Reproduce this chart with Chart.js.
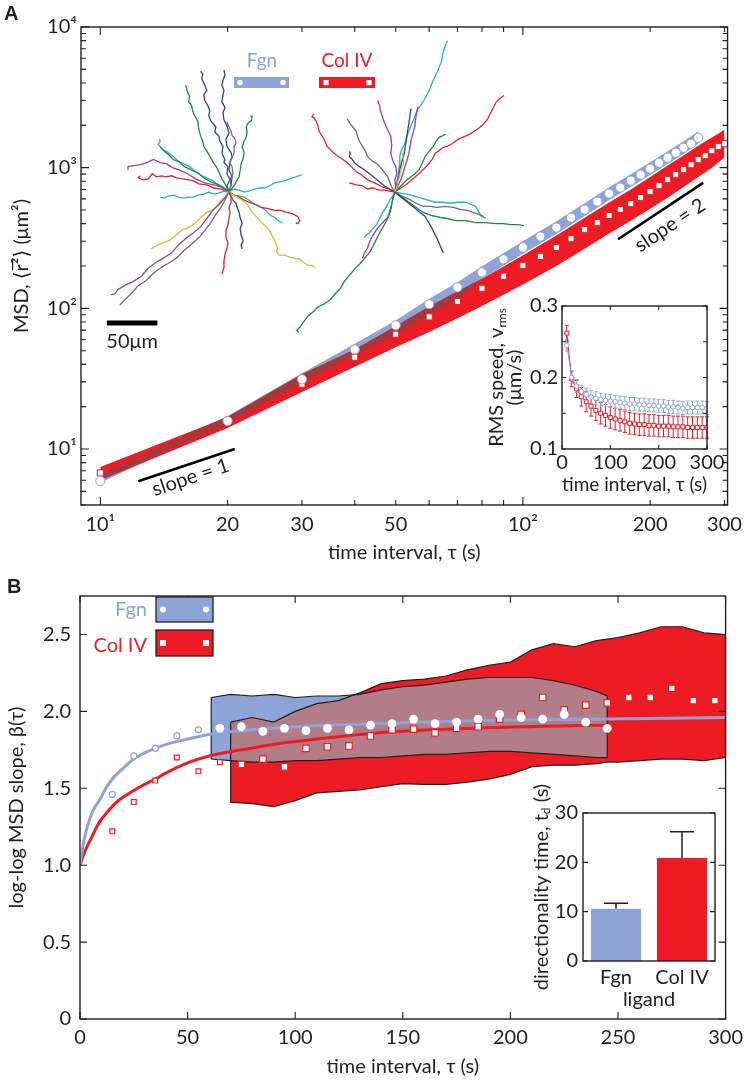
<!DOCTYPE html>
<html>
<head>
<meta charset="utf-8">
<title>MSD and log-log MSD slope</title>
<script src="https://cdn.jsdelivr.net/npm/chart.js@4.4.1/dist/chart.umd.min.js"></script>
<style>
  body { margin: 0; background: #fff; }
  #page { position: relative; width: 750px; height: 1080px; overflow: hidden; background: #fff; }
  #page canvas { position: absolute; }
</style>
</head>
<body>
<div id="page">
  <canvas id="msdChart" width="750" height="575" style="left:0;top:0"></canvas>
  <canvas id="slopeChart" width="750" height="505" style="left:0;top:575px"></canvas>
  <canvas id="speedChart" width="262" height="210" style="left:480px;top:290px"></canvas>
  <canvas id="tdChart" width="215" height="245" style="left:525px;top:770px"></canvas>
</div>
<script>
// ---------- panel A : MSD ----------
const msdTauFgn = [10,20,30,40,50,60,70,80,90,100,110,120,130,140,150,160,170,180,190,200,210,220,230,240,250,260];
const msdFgn = [5.93,15.8,31.3,51,75.7,107,141,180,223,271,324,375,441,503,574,654,722,809,892,984,1085,1177,1277,1386,1479,1633];
const msdTauCol = [10,20,30,40,50,60,70,80,90,100,110,120,130,140,150,160,170,180,190,200,210,220,230,240,250,260,270,280,290,300];
const msdCol = [6.76,16.0,28.9,44.9,65.5,87,112,139,169,202,234,271,313,363,407,457,504,556,613,676,745,822,892,968,1050,1140,1217,1321,1410,1479];

// band edges (upper / lower)
const bandTauFgn = [10,20,30,40,50,60,70,80,90,100,120,140,160,180,200,220,240,260];
const bandFgnLo = [5.75,15.3,29.4,47,64.4,90,114,162,201,244,338,453,589,729,887,1062,1251,1473];
const bandFgnHi = [6.7,17.2,34.5,56,82,117,153,199,247,300,416,558,726,898,1092,1308,1540,1813];
const bandTauCol = [10,20,30,40,50,60,70,80,90,100,120,140,160,180,200,220,240,260,280,300];
const bandColLo = [6.0,14.1,25.4,38.5,52.8,68,85,104,125,148,200,265,340,420,510,610,730,860,1000,1180];
const bandColHi = [7.45,16.9,34,51,74.5,103,132,162,198,238,330,440,565,700,860,1035,1220,1430,1640,1860];

const slopeOneTau = [12.3, 20.8], slopeOneMsd = [5.9, 10];
const slopeTwoTau = [168, 267], slopeTwoMsd = [310, 780];

const msdTickVals = [10,20,30,50,100,200,300];
const msdTickText = ['10\u00B9','20','30','50','10\u00B2','200','300'];
const msdYTickVals = [10,100,1000,10000];
const msdYTickText = ['10\u00B9','10\u00B2','10\u00B3','10\u2074'];

// example trajectories, offsets in um from each starting point
const fgnStart = [146.5, 307.7], colStart = [310.6, 307.7];
const scaleBarUm = [25.6, 75.6], scaleBarY = 179;
const fgnTracks = [
  ['blue',   [[0,0],[-2,6],[1,12],[-2,18],[-1,25],[-5,29],[-4,32],[-7,38],[-6,45],[-9,50],[-10,55],[-14,59],[-13,64],[-18,70],[-20,75],[-19,80],[-21,85],[-24,90],[-25,95],[-22,100],[-24,105],[-27,112],[-26,116],[-28,119]]],
  ['blue',   [[0,0],[2,7],[3,15],[0,22],[1,30],[3,35],[2,39],[-2,45],[-3,52],[0,58],[-2,65],[-5,71],[-6,78],[-4,83],[-7,89],[-6,95],[-5,100],[-7,105],[-6,110],[-4,115],[-5,120]]],
  ['gray',   [[0,0],[2,6],[1,12],[4,18],[3,25],[1,28],[2,32],[5,38],[5,45],[7,48],[6,52],[3,56],[2,60],[0,64],[-2,69]]],
  ['green',  [[0,0],[-4,8],[-7,13],[-10,20],[-12,24],[-16,30],[-20,37],[-25,45],[-26,50],[-28,55],[-30,62],[-31,70],[-34,75],[-36,80],[-37,85],[-40,89],[-39,94],[-41,98],[-42,102],[-43,105]]],
  ['green',  [[0,0],[5,6],[7,10],[10,15],[11,21],[12,28],[14,33],[15,39],[13,44],[15,50],[17,54],[18,59],[17,64],[19,68],[22,70],[23,74],[21,75]]],
  ['cyan',   [[0,0],[-5,4],[-10,6],[-16,11],[-22,14],[-27,16],[-33,20],[-39,25],[-45,28],[-50,30],[-55,35],[-58,37],[-62,40],[-66,42],[-70,47],[-68,50],[-69,52]]],
  ['green',  [[0,0],[-6,5],[-12,8],[-18,10],[-25,14],[-31,19],[-38,22],[-44,25],[-50,30],[-55,32],[-60,37],[-64,40],[-68,44]]],
  ['purple', [[0,0],[-8,5],[-15,7],[-24,9],[-33,13],[-41,18],[-50,22],[-56,24],[-62,28],[-68,29],[-75,32],[-81,29],[-88,27],[-94,26],[-100,25],[-100,22]]],
  ['red',    [[0,0],[-8,3],[-15,4],[-22,7],[-30,8],[-35,11],[-40,12],[-46,13],[-52,14],[-57,16],[-62,15],[-67,16],[-72,15],[-76,18],[-80,13],[-85,12],[-90,14],[-88,16]]],
  ['cyan',   [[0,0],[-5,1],[-10,-1],[-15,-2],[-20,0],[-25,-2],[-30,-3],[-35,-5],[-40,-5],[-45,-6],[-50,-5],[-55,-3],[-60,-4],[-64,-6],[-68,-5]]],
  ['cyan',   [[0,0],[5,3],[10,2],[15,0],[20,1],[25,3],[30,4],[35,4],[40,6],[45,9],[50,10],[55,11],[60,13],[66,15],[72,17]]],
  ['cyan',   [[0,0],[5,-3],[10,-4],[15,-5],[20,-8],[25,-12],[30,-14],[35,-17],[40,-22],[45,-25],[50,-29],[53,-30]]],
  ['red',    [[0,0],[5,-3],[10,-5],[15,-8],[20,-10],[26,-12],[32,-15],[38,-16],[45,-18],[51,-18],[57,-20],[62,-21],[68,-24],[70,-28],[68,-31],[66,-30]]],
  ['yellow', [[0,0],[4,-3],[8,-5],[13,-8],[18,-12],[21,-17],[25,-22],[29,-26],[32,-30],[36,-33],[40,-38],[44,-45],[48,-55],[47,-59],[50,-62],[55,-62],[60,-64],[65,-65],[70,-66],[74,-69],[78,-72],[82,-72],[85,-74]]],
  ['blue',   [[0,0],[2,-4],[4,-8],[7,-11],[8,-15],[10,-20],[11,-25],[12,-28],[13,-31],[11,-36],[12,-42],[14,-48],[12,-52],[13,-56]]],
  ['red',    [[0,0],[2,-5],[2,-10],[0,-15],[1,-20],[0,-26],[-1,-32],[-3,-38],[-3,-45],[-1,-50],[-2,-55],[-4,-61],[-5,-68],[-5,-74],[-7,-81]]],
  ['yellow', [[0,0],[-4,-5],[-8,-8],[-12,-14],[-17,-18],[-22,-20],[-28,-25],[-34,-31],[-40,-35],[-46,-37],[-52,-42],[-58,-47],[-65,-50],[-71,-52],[-77,-56]]],
  ['purple', [[0,0],[-5,-7],[-10,-12],[-16,-18],[-22,-26],[-28,-34],[-35,-40],[-42,-45],[-50,-52],[-57,-60],[-65,-65],[-72,-69],[-80,-75],[-87,-83],[-95,-88],[-102,-91],[-110,-96],[-113,-100],[-117,-101]]],
  ['gray',   [[0,0],[-4,-8],[-8,-15],[-13,-22],[-18,-30],[-24,-38],[-30,-45],[-37,-51],[-45,-58],[-52,-65],[-60,-70],[-67,-74],[-75,-80],[-82,-87],[-90,-92],[-95,-98],[-100,-103],[-104,-107],[-108,-111]]]
];
const colTracks = [
  ['red',    [[0,0],[-6,3],[-12,5],[-20,9],[-27,12],[-33,17],[-38,20],[-43,25],[-47,29],[-53,33],[-60,38],[-64,42],[-67,45],[-70,52],[-75,60],[-76,65],[-78,70],[-80,73],[-82,74],[-80,77]]],
  ['gray',   [[0,0],[-3,5],[-5,10],[-7,15],[-10,19],[-14,24],[-18,28],[-23,31],[-27,35],[-29,40],[-32,45],[-35,50],[-37,55],[-38,59],[-40,62],[-44,67],[-47,72]]],
  ['blue',   [[0,0],[-5,3],[-10,6],[-15,10],[-20,14],[-25,18],[-30,22],[-35,25],[-40,29],[-42,32],[-45,35],[-44,38],[-45,40]]],
  ['red',    [[0,0],[-5,1],[-10,2],[-16,2],[-22,4],[-27,3],[-32,6],[-38,7],[-45,9]]],
  ['purple', [[0,0],[1,6],[0,12],[2,18],[1,25],[-2,31],[-4,38],[-3,46],[-4,55],[-7,61],[-10,68],[-12,73],[-14,79],[-15,85],[-17,90]]],
  ['cyan',   [[0,0],[2,8],[3,15],[4,22],[5,30],[5,36],[7,42],[10,48],[12,55],[14,60],[16,65],[19,72],[22,80],[26,86],[30,92],[34,100],[38,110],[42,118],[46,128],[48,138],[52,149]]],
  ['blue',   [[0,0],[2,8],[4,15],[5,22],[7,30],[9,36],[10,42],[11,48],[12,55],[13,62],[14,68],[15,75],[16,82]]],
  ['purple', [[0,0],[3,6],[6,12],[8,18],[10,25],[12,31],[14,38],[15,44],[16,50],[18,58],[20,65],[21,75],[23,84]]],
  ['green',  [[0,0],[4,4],[8,8],[12,12],[16,15],[20,18],[24,22],[27,28],[30,35],[34,40],[38,45],[41,50],[44,54],[47,55],[50,57]]],
  ['red',    [[0,0],[6,4],[12,8],[18,13],[24,18],[28,22],[33,27],[37,32],[40,38],[44,41],[48,44],[52,45],[56,47],[63,52],[70,55],[76,58],[82,62],[87,66],[92,72],[96,80],[100,88],[104,92],[108,95]]],
  ['yellow', [[0,0],[2,5],[3,10],[5,16],[6,22],[8,26],[9,30],[8,35],[7,39]]],
  ['cyan',   [[0,0],[6,-1],[12,-2],[19,-4],[26,-6],[33,-8],[40,-10],[47,-10],[55,-11],[62,-10],[70,-10],[75,-12],[80,-14],[83,-19],[86,-25]]],
  ['gray',   [[0,0],[7,-4],[14,-7],[21,-11],[28,-14],[35,-14],[42,-15],[50,-14],[58,-15],[65,-17],[72,-18],[80,-21],[86,-23],[90,-26]]],
  ['green',  [[0,0],[7,-5],[14,-10],[21,-15],[28,-20],[36,-23],[45,-25],[52,-26],[60,-28],[70,-28],[80,-30],[90,-30],[100,-31],[108,-31],[115,-32],[122,-32],[128,-33]]],
  ['blue',   [[0,0],[5,-4],[10,-8],[15,-12],[20,-16],[25,-20],[30,-24],[33,-29],[36,-34],[39,-40],[42,-46],[45,-53],[48,-60]]],
  ['cyan',   [[0,0],[-2,-4],[-5,-8],[-8,-14],[-12,-20],[-15,-26],[-18,-32],[-22,-36],[-25,-40],[-28,-42],[-30,-45]]],
  ['purple', [[0,0],[-2,-6],[-3,-12],[-4,-18],[-6,-24],[-10,-28],[-14,-32],[-18,-37],[-22,-43],[-25,-49],[-27,-55],[-30,-60],[-32,-65]]],
  ['green',  [[0,0],[-2,-8],[-4,-15],[-6,-22],[-8,-28],[-12,-35],[-16,-42],[-20,-50],[-24,-58],[-29,-64],[-34,-70],[-40,-76],[-45,-82],[-50,-88],[-54,-95],[-59,-100],[-64,-106],[-70,-110],[-76,-113],[-81,-118],[-86,-122],[-89,-126],[-92,-130],[-94,-133],[-97,-136],[-95,-138]]]
];

// ---------- inset A : RMS speed ----------
const speedTau = [10,20,30,40,50,60,70,80,90,100,110,120,130,140,150,160,170,180,190,200,210,220,230,240,250,260,270,280,290,300];
const speedFgn = [0.245,0.200,0.188,0.180,0.176,0.173,0.171,0.169,0.168,0.167,0.166,0.165,0.164,0.163,0.163,0.162,0.162,0.161,0.161,0.160,0.160,0.159,0.159,0.158,0.157,0.158,0.158,0.158,0.158,0.157];
const speedFgnErr = [0.008,0.008,0.009,0.009,0.009,0.009,0.009,0.009,0.009,0.009,0.009,0.009,0.009,0.009,0.009,0.009,0.009,0.009,0.009,0.009,0.009,0.009,0.009,0.009,0.009,0.009,0.009,0.009,0.009,0.009];
const speedCol = [0.262,0.198,0.184,0.173,0.166,0.160,0.154,0.150,0.147,0.144,0.142,0.140,0.138,0.136,0.135,0.134,0.134,0.133,0.133,0.132,0.132,0.132,0.131,0.131,0.131,0.130,0.130,0.130,0.130,0.130];
const speedColErr = [0.011,0.011,0.012,0.013,0.014,0.014,0.014,0.015,0.015,0.015,0.015,0.015,0.015,0.015,0.015,0.015,0.015,0.015,0.015,0.015,0.015,0.015,0.015,0.015,0.015,0.015,0.015,0.015,0.015,0.015];

// ---------- panel B : log-log slope ----------
const fitTauFgn = [0,1,2,3,5,7,9,12,15,20,25,30,35,40,50,60,80,100,135,185,245,300];
const fitFgn = [1.00,1.09,1.17,1.23,1.32,1.38,1.42,1.50,1.56,1.63,1.69,1.73,1.76,1.785,1.82,1.85,1.88,1.90,1.92,1.94,1.95,1.96];
const fitTauCol = [0,2,5,9,13,17,22,28,35,40,50,60,75,92,110,138,184,245,300];
const fitCol = [1.00,1.08,1.17,1.28,1.35,1.41,1.46,1.51,1.56,1.60,1.665,1.71,1.75,1.79,1.82,1.86,1.89,1.91,1.92];

const betaTauFgnEarly = [15,25,35,45,55];
const betaFgnEarly = [1.46,1.71,1.76,1.84,1.88];
const betaTauFgn = [65,75,85,95,105,115,125,135,145,155,165,175,185,195,205,215,225,235,245];
const betaFgn = [1.89,1.90,1.87,1.89,1.875,1.89,1.88,1.91,1.92,1.95,1.92,1.93,1.95,1.98,1.96,1.95,1.98,1.93,1.89];
const betaTauColEarly = [15,25,35,45,55,65];
const betaColEarly = [1.22,1.41,1.55,1.70,1.61,1.67];
const betaTauCol = [75,85,95,105,115,125,135,145,155,165,175,185,195,205,215,225,235,245,255,265,275,285,295];
const betaCol = [1.655,1.69,1.64,1.76,1.77,1.775,1.84,1.88,1.885,1.86,1.89,1.90,1.95,1.98,2.09,2.01,2.04,2.055,2.09,2.09,2.15,2.07,2.07];

// spread regions
const regionGrid = [70,80,90,100,110,120,130,140,150,160,170,180,190,200,210,220,230,240,245];
const fgnRegionTau = [61].concat(regionGrid);
const fgnRegionHi = [2.09,2.11,2.10,2.11,2.09,2.10,2.10,2.11,2.14,2.16,2.17,2.19,2.21,2.22,2.22,2.22,2.20,2.17,2.13,2.10];
const fgnRegionLo = [1.69,1.68,1.67,1.67,1.68,1.68,1.69,1.70,1.70,1.71,1.72,1.72,1.73,1.74,1.74,1.73,1.72,1.71,1.70,1.70];
const colRegionTau = regionGrid.concat([250,260,270,280,290,300]);
const colRegionHi = [1.93,1.96,1.93,2.00,2.05,2.07,2.12,2.18,2.20,2.21,2.23,2.27,2.30,2.32,2.40,2.44,2.42,2.46,2.47,2.48,2.51,2.55,2.55,2.51,2.50];
const colRegionLo = [1.41,1.40,1.38,1.42,1.47,1.48,1.49,1.51,1.53,1.525,1.525,1.54,1.56,1.59,1.64,1.65,1.65,1.66,1.67,1.67,1.68,1.69,1.69,1.68,1.70];

const betaTickVals = [0,0.5,1,1.5,2,2.5];
const tauTickVals = [0,50,100,150,200,250,300];

// ---------- inset B : directionality time ----------
const ligands = ['Fgn', 'Col IV'];
const tdMean = [10.6, 20.9];
const tdErr = [1.1, 5.3];

// ---------- styling ----------
const FONT = 'Lato, "Open Sans", "DejaVu Sans", sans-serif';
const INK = '#231f20';
const FGN = '#8ea4d6';
const COL = '#ed1c24';
const OVERLAP_A = '#a3393d';
const MAUVE = '#b27d88';
const TRACK = {blue:'#2e3f9e', green:'#1b8a3e', cyan:'#27b3b8', purple:'#9a3ca8', red:'#e3232b', gray:'#6d6e71', yellow:'#c5c43b'};

Chart.defaults.font.family = FONT;
Chart.defaults.font.size = 20;
Chart.defaults.color = INK;
Chart.defaults.animation = false;

const xy = (xs, ys) => xs.map((x, i) => ({x, y: ys[i]}));
const ticksAt = vals => axis => { axis.ticks = vals.map(v => ({value: v})); };

function text(ctx, str, x, y, o) {
  o = o || {};
  ctx.save();
  ctx.font = (o.weight || '') + ' ' + (o.size || 20) + 'px ' + (o.family || FONT);
  ctx.fillStyle = o.color || INK;
  ctx.textAlign = o.align || 'center';
  ctx.textBaseline = o.base || 'middle';
  ctx.translate(x, y);
  if (o.rot) ctx.rotate(o.rot);
  ctx.fillText(str, 0, 0);
  ctx.restore();
}

// vertical title with a subscript part: parts = [[text, size, shift]]
function vTitle(ctx, parts, x, y) {
  ctx.save();
  ctx.translate(x, y);
  ctx.rotate(-Math.PI / 2);
  ctx.fillStyle = INK;
  ctx.textBaseline = 'middle';
  ctx.textAlign = 'left';
  let w = 0;
  parts.forEach(p => { ctx.font = p[1] + 'px ' + FONT; w += ctx.measureText(p[0]).width; });
  let cx = -w / 2;
  parts.forEach(p => {
    ctx.font = p[1] + 'px ' + FONT;
    ctx.fillText(p[0], cx, p[2] || 0);
    cx += ctx.measureText(p[0]).width;
  });
  ctx.restore();
}

// box round the plot area and inward tick marks on all four sides
function frame(chart, specs) {
  const {ctx, chartArea: a} = chart;
  ctx.save();
  ctx.strokeStyle = INK;
  ctx.lineWidth = 1.4;
  ctx.strokeRect(a.left, a.top, a.right - a.left, a.bottom - a.top);
  ctx.lineWidth = 1.1;
  specs.forEach(([id, vals, len]) => {
    const sc = chart.scales[id];
    vals.forEach(v => {
      const p = sc.getPixelForValue(v);
      ctx.beginPath();
      if (sc.isHorizontal()) {
        ctx.moveTo(p, a.bottom); ctx.lineTo(p, a.bottom - len);
        ctx.moveTo(p, a.top); ctx.lineTo(p, a.top + len);
      } else {
        ctx.moveTo(a.left, p); ctx.lineTo(a.left + len, p);
        ctx.moveTo(a.right, p); ctx.lineTo(a.right - len, p);
      }
      ctx.stroke();
    });
  });
  ctx.restore();
}

function logMinor(lo, hi) {
  const out = [];
  for (let d = 1; d <= 10000; d *= 10)
    for (let k = 2; k < 10; k++) if (k * d >= lo && k * d <= hi) out.push(k * d);
  return out;
}

function slopeLabel(chart, xs, ys, str, off) {
  const sx = chart.scales.x, sy = chart.scales.y;
  const x1 = sx.getPixelForValue(xs[0]), y1 = sy.getPixelForValue(ys[0]);
  const x2 = sx.getPixelForValue(xs[1]), y2 = sy.getPixelForValue(ys[1]);
  const ang = Math.atan2(y2 - y1, x2 - x1);
  const mx = (x1 + x2) / 2 - Math.sin(ang) * off;
  const my = (y1 + y2) / 2 + Math.cos(ang) * off;
  text(chart.ctx, str, mx, my, {rot: ang});
}

function hiddenScales() {
  return {
    tx: {type: 'linear', axis: 'x', position: 'bottom', display: false, min: 0, max: 640},
    ty: {type: 'linear', axis: 'y', position: 'left', display: false, min: 0, max: 470}
  };
}

// ---------- panel A chart ----------
const aSets = [];
function addA(ds) { ds.order = 1000 - aSets.length; aSets.push(ds); }
function lineA(data, extra) {
  return Object.assign({data, showLine: true, pointRadius: 0, borderWidth: 0, borderColor: 'transparent', fill: false, tension: 0}, extra);
}

const bandOvLo = bandTauFgn.map((t, i) => Math.max(bandFgnLo[i], bandColLo[i]));
const bandOvHi = bandTauFgn.map((t, i) => Math.max(bandOvLo[i], Math.min(bandFgnHi[i], bandColHi[i])));

addA(lineA(xy(bandTauFgn, bandFgnLo)));
addA(lineA(xy(bandTauFgn, bandFgnHi), {fill: '-1', backgroundColor: FGN}));
addA(lineA(xy(bandTauCol, bandColLo)));
addA(lineA(xy(bandTauCol, bandColHi), {fill: '-1', backgroundColor: COL}));
addA(lineA(xy(bandTauFgn, bandOvLo)));
addA(lineA(xy(bandTauFgn, bandOvHi), {fill: '-1', backgroundColor: OVERLAP_A}));

function addTracks(list, start) {
  list.forEach(([c, pts]) => {
    addA(lineA(pts.map(p => ({x: start[0] + p[0], y: start[1] + p[1]})),
      {xAxisID: 'tx', yAxisID: 'ty', borderColor: TRACK[c], borderWidth: 1.3}));
  });
}
addTracks(fgnTracks, fgnStart);
addTracks(colTracks, colStart);
addA(lineA([{x: scaleBarUm[0], y: scaleBarY}, {x: scaleBarUm[1], y: scaleBarY}],
  {xAxisID: 'tx', yAxisID: 'ty', borderColor: '#000', borderWidth: 5, borderCapStyle: 'butt'}));

addA(lineA(xy(slopeOneTau, slopeOneMsd), {borderColor: '#000', borderWidth: 2.6}));
addA(lineA(xy(slopeTwoTau, slopeTwoMsd), {borderColor: '#000', borderWidth: 2.6}));

addA({data: xy(msdTauCol, msdCol), showLine: false, fill: false, pointStyle: 'rect', pointRadius: 4.3,
  pointBackgroundColor: '#fff', pointBorderColor: COL, pointBorderWidth: 1});
addA({data: xy(msdTauFgn, msdFgn), showLine: false, fill: false, pointStyle: 'circle', pointRadius: 4.6,
  pointBackgroundColor: '#fff', pointBorderColor: FGN, pointBorderWidth: 1});

const decorA = {
  id: 'decorA',
  afterDraw(chart) {
    frame(chart, [
      ['x', [10, 100], 8], ['x', logMinor(10, 300).filter(v => v % 100 !== 0 || v > 100), 5],
      ['y', [10, 100, 1000, 10000], 8], ['y', logMinor(4, 9999).filter(v => ![10, 100, 1000].includes(v)), 5]
    ]);
    const ctx = chart.ctx;
    text(ctx, 'A', 4, 14, {weight: 'bold', size: 20, family: '"Liberation Sans", Arial, sans-serif', align: 'left'});
    slopeLabel(chart, slopeOneTau, slopeOneMsd, 'slope = 1', 13);
    slopeLabel(chart, slopeTwoTau, slopeTwoMsd, 'slope = 2', 17);
    const tx = chart.scales.tx, ty = chart.scales.ty;
    text(ctx, '50\u03BCm', tx.getPixelForValue((scaleBarUm[0] + scaleBarUm[1]) / 2), ty.getPixelForValue(scaleBarY) + 19);
    // legend
    ctx.save();
    text(ctx, 'Fgn', 262, 61, {color: FGN, size: 19});
    ctx.fillStyle = FGN; ctx.fillRect(234, 77, 55, 11);
    ctx.fillStyle = '#fff';
    [240, 283].forEach(x => { ctx.beginPath(); ctx.arc(x, 82.5, 2.7, 0, 2 * Math.PI); ctx.fill(); });
    text(ctx, 'Col IV', 347, 61, {color: COL, size: 19});
    ctx.fillStyle = COL; ctx.fillRect(319, 77, 56, 11);
    ctx.fillStyle = '#fff';
    [326, 369].forEach(x => ctx.fillRect(x - 2.6, 80, 5.2, 5.2));
    ctx.restore();
  }
};

new Chart(document.getElementById('msdChart'), {
  type: 'scatter',
  data: {datasets: aSets},
  options: {
    responsive: false, animation: false, events: [],
    layout: {padding: {left: 0, right: 18, top: 27, bottom: 0}},
    plugins: {legend: {display: false}, tooltip: {enabled: false}},
    scales: Object.assign({
      x: {
        type: 'logarithmic', min: 9, max: 305,
        afterFit: s => { s.height = 70; },
        afterBuildTicks: ticksAt(msdTickVals),
        grid: {display: false, drawTicks: false}, border: {display: false},
        ticks: {autoSkip: false, maxRotation: 0, padding: 8, callback: (v, i) => msdTickText[i]},
        title: {display: true, text: 'time interval, \u03C4 (s)', padding: {top: 0, bottom: 10}}
      },
      y: {
        type: 'logarithmic', min: 4, max: 10000,
        afterFit: s => { s.width = 81; },
        afterBuildTicks: ticksAt(msdYTickVals),
        grid: {display: false, drawTicks: false}, border: {display: false},
        ticks: {autoSkip: false, padding: 4, callback: (v, i) => msdYTickText[i]},
        title: {display: true, text: 'MSD, \u27E8r\u0305\u00B2\u27E9 (\u03BCm\u00B2)', padding: {top: 10, bottom: 0}}
      }
    }, hiddenScales())
  },
  plugins: [decorA]
});

// ---------- inset A chart ----------
const errorBarsA = {
  id: 'errorBarsA',
  beforeDatasetsDraw(chart) {
    const {ctx} = chart, sx = chart.scales.x, sy = chart.scales.y;
    const series = [[speedCol, speedColErr, COL], [speedFgn, speedFgnErr, FGN]];
    ctx.save();
    ctx.lineWidth = 1;
    series.forEach(([vals, errs, color]) => {
      ctx.strokeStyle = color;
      speedTau.forEach((t, i) => {
        const x = sx.getPixelForValue(t);
        const y1 = sy.getPixelForValue(vals[i] - errs[i]), y2 = sy.getPixelForValue(vals[i] + errs[i]);
        ctx.beginPath();
        ctx.moveTo(x, y1); ctx.lineTo(x, y2);
        ctx.moveTo(x - 2, y1); ctx.lineTo(x + 2, y1);
        ctx.moveTo(x - 2, y2); ctx.lineTo(x + 2, y2);
        ctx.stroke();
      });
    });
    ctx.restore();
  },
  afterDraw(chart) {
    frame(chart, [['x', [0, 100, 200, 300], 4], ['y', [0.1, 0.15, 0.2, 0.25, 0.3], 4]]);
    const a = chart.chartArea, cy = (a.top + a.bottom) / 2;
    vTitle(chart.ctx, [['RMS speed, v', 20, 0], ['rms', 12, 5]], a.left - 65, cy);
    vTitle(chart.ctx, [['(\u03BCm/s)', 20, 0]], a.left - 47, cy);
  }
};

new Chart(document.getElementById('speedChart'), {
  type: 'scatter',
  data: {datasets: [
    {data: xy(speedTau, speedFgn), showLine: true, borderColor: FGN, borderWidth: 1, pointRadius: 2.3,
      pointBackgroundColor: '#fff', pointBorderColor: FGN, pointBorderWidth: 1},
    {data: xy(speedTau, speedCol), showLine: true, borderColor: COL, borderWidth: 1, pointStyle: 'rect', pointRadius: 2.8,
      pointBackgroundColor: '#fff', pointBorderColor: COL, pointBorderWidth: 1}
  ]},
  options: {
    responsive: false, animation: false, events: [],
    layout: {padding: {left: 0, right: 35, top: 11, bottom: 0}},
    plugins: {legend: {display: false}, tooltip: {enabled: false}},
    scales: {
      x: {
        type: 'linear', min: 0, max: 300,
        afterFit: s => { s.height = 51; },
        afterBuildTicks: ticksAt([0, 100, 200, 300]),
        grid: {display: false, drawTicks: false}, border: {display: false},
        ticks: {autoSkip: false, maxRotation: 0, padding: 2},
        title: {display: true, text: 'time interval, \u03C4 (s)', padding: {top: 0, bottom: 3}}
      },
      y: {
        type: 'linear', min: 0.1, max: 0.3,
        afterFit: s => { s.width = 82; },
        afterBuildTicks: ticksAt([0.1, 0.2, 0.3]),
        grid: {display: false, drawTicks: false}, border: {display: false},
        ticks: {padding: 4, callback: v => v.toFixed(1)}
      }
    }
  },
  plugins: [errorBarsA]
});

// ---------- panel B chart ----------
function polygon(xs, hi, lo) {
  const pts = xs.map((x, i) => ({x, y: hi[i]}));
  for (let i = xs.length - 1; i >= 0; i--) pts.push({x: xs[i], y: lo[i]});
  pts.push(pts[0]);
  return pts;
}
const overlapHi = regionGrid.map((t, i) => Math.min(fgnRegionHi[i + 1], colRegionHi[i]));
const overlapLo = regionGrid.map((t, i) => Math.max(fgnRegionLo[i + 1], colRegionLo[i]));

const colPoly = polygon(colRegionTau, colRegionHi, colRegionLo);
const fgnPoly = polygon(fgnRegionTau, fgnRegionHi, fgnRegionLo);
const ovPoly = polygon(regionGrid, overlapHi, overlapLo);

const bSets = [];
function addB(ds) { ds.order = 1000 - bSets.length; bSets.push(ds); }
const shape = (data, color) => ({data, showLine: true, pointRadius: 0, borderWidth: 0, borderColor: 'transparent',
  fill: 'shape', backgroundColor: color, tension: 0});
const outline = data => ({data, showLine: true, pointRadius: 0, borderWidth: 1.2, borderColor: INK, fill: false, tension: 0});

addB(shape(colPoly, COL));
addB(shape(fgnPoly, FGN));
addB(shape(ovPoly, MAUVE));
addB(outline(colPoly));
addB(outline(fgnPoly));
addB({data: xy(fitTauCol, fitCol), showLine: true, pointRadius: 0, borderColor: COL, borderWidth: 3, fill: false, cubicInterpolationMode: 'monotone'});
addB({data: xy(fitTauFgn, fitFgn), showLine: true, pointRadius: 0, borderColor: FGN, borderWidth: 3, fill: false, cubicInterpolationMode: 'monotone'});
addB({data: xy(betaTauCol, betaCol), showLine: false, fill: false, pointStyle: 'rect', pointRadius: 4.6,
  pointBackgroundColor: '#fff', pointBorderColor: COL, pointBorderWidth: 1.2});
addB({data: xy(betaTauColEarly, betaColEarly), showLine: false, fill: false, pointStyle: 'rect', pointRadius: 3.4,
  pointBackgroundColor: '#fff', pointBorderColor: COL, pointBorderWidth: 1.2});
addB({data: xy(betaTauFgn, betaFgn), showLine: false, fill: false, pointStyle: 'circle', pointRadius: 4.4,
  pointBackgroundColor: '#fff', pointBorderColor: '#fff', pointBorderWidth: 0});
addB({data: xy(betaTauFgnEarly, betaFgnEarly), showLine: false, fill: false, pointStyle: 'circle', pointRadius: 3,
  pointBackgroundColor: '#fff', pointBorderColor: FGN, pointBorderWidth: 1.2});

const decorB = {
  id: 'decorB',
  afterDraw(chart) {
    frame(chart, [['x', tauTickVals, 7], ['y', betaTickVals, 7]]);
    const ctx = chart.ctx;
    text(ctx, 'B', 7, 12, {weight: 'bold', size: 20, family: '"Liberation Sans", Arial, sans-serif', align: 'left'});
    ctx.save();
    text(ctx, 'Fgn', 147, 35, {color: FGN, align: 'right'});
    ctx.fillStyle = FGN; ctx.fillRect(156, 22, 57, 25);
    ctx.strokeStyle = INK; ctx.lineWidth = 1.3; ctx.strokeRect(156, 22, 57, 25);
    ctx.fillStyle = '#fff';
    [163, 206].forEach(x => { ctx.beginPath(); ctx.arc(x, 34.5, 3, 0, 2 * Math.PI); ctx.fill(); });
    text(ctx, 'Col IV', 147, 71, {color: COL, align: 'right'});
    ctx.fillStyle = COL; ctx.fillRect(156, 55, 57, 26);
    ctx.strokeRect(156, 55, 57, 26);
    ctx.fillStyle = '#fff';
    [163, 206].forEach(x => ctx.fillRect(x - 3, 65, 6, 6));
    ctx.restore();
  }
};

new Chart(document.getElementById('slopeChart'), {
  type: 'scatter',
  data: {datasets: bSets},
  options: {
    responsive: false, animation: false, events: [],
    layout: {padding: {left: 0, right: 19, top: 5, bottom: 0}},
    plugins: {legend: {display: false}, tooltip: {enabled: false}},
    scales: {
      x: {
        type: 'linear', min: 0, max: 300,
        afterFit: s => { s.height = 61; },
        afterBuildTicks: ticksAt(tauTickVals),
        grid: {display: false, drawTicks: false}, border: {display: false},
        ticks: {autoSkip: false, maxRotation: 0, padding: 7},
        title: {display: true, text: 'time interval, \u03C4 (s)', padding: {top: 0, bottom: 1}}
      },
      y: {
        type: 'linear', min: 0, max: 2.75,
        afterFit: s => { s.width = 80; },
        afterBuildTicks: ticksAt(betaTickVals),
        grid: {display: false, drawTicks: false}, border: {display: false},
        ticks: {padding: 9, callback: v => (v === 0 ? '0' : v.toFixed(1))},
        title: {display: true, text: 'log-log MSD slope, \u03B2(\u03C4)', padding: {top: 5, bottom: 0}}
      }
    }
  },
  plugins: [decorB]
});

// ---------- inset B chart ----------
const decorTd = {
  id: 'decorTd',
  afterDatasetsDraw(chart) {
    const {ctx} = chart, sy = chart.scales.y, meta = chart.getDatasetMeta(0);
    ctx.save();
    ctx.strokeStyle = INK;
    ctx.lineWidth = 1.5;
    meta.data.forEach((bar, i) => {
      const top = sy.getPixelForValue(tdMean[i] + tdErr[i]);
      const half = bar.width * 0.24;
      ctx.beginPath();
      ctx.moveTo(bar.x, bar.y); ctx.lineTo(bar.x, top);
      ctx.moveTo(bar.x - half, top); ctx.lineTo(bar.x + half, top);
      ctx.stroke();
    });
    ctx.restore();
  },
  afterDraw(chart) {
    frame(chart, [['y', [0, 10, 20, 30], 5]]);
    const a = chart.chartArea;
    vTitle(chart.ctx, [['directionality time, t', 20, 0], ['d', 12, 4], [' (s)', 20, 0]], a.left - 41, (a.top + a.bottom) / 2);
  }
};

new Chart(document.getElementById('tdChart'), {
  type: 'bar',
  data: {labels: ligands, datasets: [{data: tdMean, backgroundColor: [FGN, COL], barPercentage: 0.76, categoryPercentage: 1}]},
  options: {
    responsive: false, animation: false, events: [],
    layout: {padding: {left: 0, right: 25, top: 43, bottom: 0}},
    plugins: {legend: {display: false}, tooltip: {enabled: false}},
    scales: {
      x: {
        afterFit: s => { s.height = 54; },
        grid: {display: false, drawTicks: false}, border: {display: false},
        ticks: {padding: 5},
        title: {display: true, text: 'ligand', padding: {top: 0, bottom: 3}}
      },
      y: {
        min: 0, max: 30,
        afterFit: s => { s.width = 58; },
        afterBuildTicks: ticksAt([0, 10, 20, 30]),
        grid: {display: false, drawTicks: false}, border: {display: false},
        ticks: {padding: 5}
      }
    }
  },
  plugins: [decorTd]
});
</script>
</body>
</html>
